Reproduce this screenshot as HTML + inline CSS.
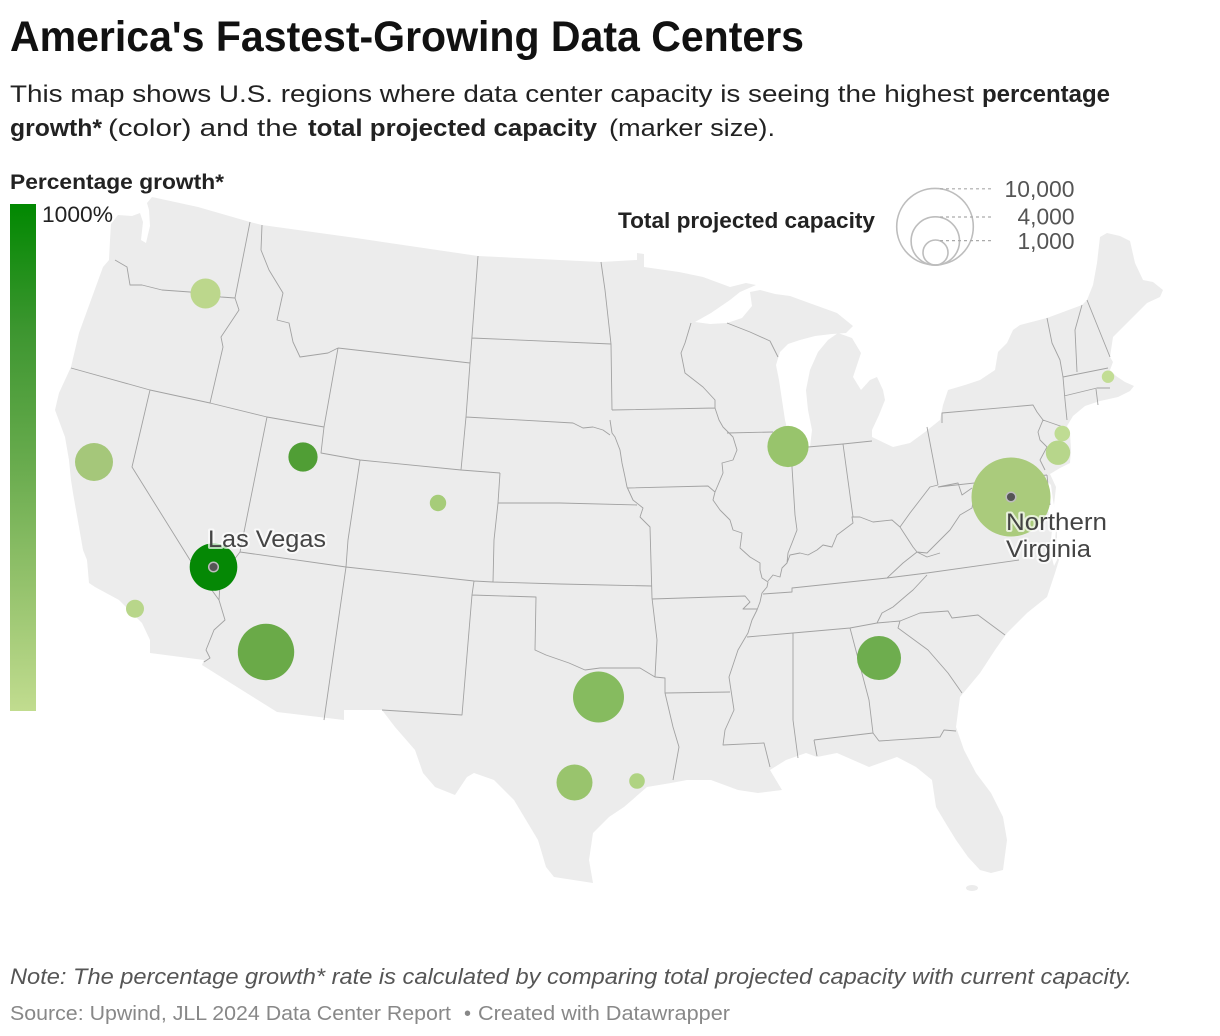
<!DOCTYPE html>
<html>
<head>
<meta charset="utf-8">
<style>
  html,body{margin:0;padding:0;background:#fff;}
  body{width:1220px;height:1036px;overflow:hidden;}
  svg{display:block;}
  text{font-family:"Liberation Sans",Arial,sans-serif;}
</style>
</head>
<body>
<svg width="1220" height="1036" viewBox="0 0 1220 1036" xmlns="http://www.w3.org/2000/svg">
  <defs>
    <linearGradient id="grad" x1="0" y1="0" x2="0" y2="1">
      <stop offset="0" stop-color="#018801"/>
      <stop offset="0.25" stop-color="#3d9630"/>
      <stop offset="0.5" stop-color="#66aa4c"/>
      <stop offset="0.75" stop-color="#94c26c"/>
      <stop offset="1" stop-color="#c1dc8f"/>
    </linearGradient>
  </defs>

  <!-- Title -->
  <text x="10" y="51" font-size="43" font-weight="bold" fill="#111" textLength="794" lengthAdjust="spacingAndGlyphs">America's Fastest-Growing Data Centers</text>

  <!-- Subtitle -->
  <text x="10" y="102" font-size="24" fill="#222" textLength="964" lengthAdjust="spacingAndGlyphs">This map shows U.S. regions where data center capacity is seeing the highest</text>
  <text x="982" y="102" font-size="24" font-weight="bold" fill="#222" textLength="128" lengthAdjust="spacingAndGlyphs">percentage</text>
  <text x="10" y="136" font-size="24" font-weight="bold" fill="#222" textLength="92" lengthAdjust="spacingAndGlyphs">growth*</text>
  <text x="108" y="136" font-size="24" fill="#222" textLength="190" lengthAdjust="spacingAndGlyphs">(color) and the</text>
  <text x="308" y="136" font-size="24" font-weight="bold" fill="#222" textLength="289" lengthAdjust="spacingAndGlyphs">total projected capacity</text>
  <text x="609" y="136" font-size="24" fill="#222" textLength="166" lengthAdjust="spacingAndGlyphs">(marker size).</text>

  <!-- Map -->
  <path fill="#ececec" stroke="none" d="
    M152,197 L198,207 L250,222 L262,225 L356,238 L478,256 L601,262 L637,260 L637,253 L644,254 L644,267
    L679,272 L703,277 L730,287 L746,283 L756,285
    L740,292 L730,300 L711,313 L695,322
    L710,324 L727,323 L742,318 L752,306 L750,292 L760,290 L775,294 L790,296 L812,304 L837,313 L853,326
    L846,333 L832,334 L815,336 L800,340 L788,344 L780,352
    L776,365 L779,380 L782,400 L785,420 L790,440 L800,447 L810,447
    L812,430 L808,410 L806,390 L810,370 L818,352 L828,340 L838,333
    L852,338 L861,353 L856,368 L853,377 L861,390 L870,380 L877,377 L883,390 L885,400 L879,415 L872,430
    L872,437 L893,447 L910,443 L925,432 L940,420
    L943,405 L948,390 L965,385 L980,380 L995,370 L998,352 L1007,343 L1013,330 L1020,325 L1047,318 L1082,305 L1087,300
    L1093,285 L1097,263 L1100,237 L1107,233 L1120,236 L1130,241 L1135,263 L1143,280 L1153,282 L1163,290 L1160,297
    L1147,303 L1137,313 L1123,327 L1113,337 L1110,357 L1113,362 L1110,370
    L1116,376 L1125,382 L1134,386 L1130,391 L1118,397 L1100,401
    L1085,406 L1073,416 L1067,426 L1070,433 L1071,450 L1070,463 L1060,468 L1050,474 L1056,487 L1054,505
    L1057,527 L1057,552 L1059,560 L1055,573 L1047,597 L1027,613 L1007,633 L995,650 L980,673 L960,697
    L956,727 L964,750 L976,773 L991,793 L1003,817 L1007,840 L1003,870 L991,873 L980,870 L968,857 L956,840
    L948,827 L936,807 L932,780 L916,767 L897,757 L869,767 L837,753 L817,757 L806,753 L786,760 L770,770
    L782,790 L758,793 L738,790 L711,780 L687,780 L671,783 L647,787 L624,807 L609,817 L593,833 L589,860 L593,883
    L554,877 L546,867 L538,840 L514,800 L494,780 L474,773 L467,777 L455,795 L435,787 L423,773 L415,750
    L395,727 L382,710 L344,710 L344,720 L277,712 L202,665 L204,660 L150,653
    L150,640 L142,623 L119,600 L95,587 L89,583 L87,560 L83,550 L79,527 L73,493 L71,480 L69,460 L65,437
    L55,410 L59,393 L71,367 L79,333 L91,300 L103,267 L109,260 L110,240 L111,224 L118,215 L132,216 L140,213
    L143,222 L141,240 L146,243 L150,226 L149,210 L147,203 Z"/>
  <ellipse cx="972" cy="888" rx="6" ry="3" fill="#ececec"/>
  <!-- Chesapeake inlet -->
  <path fill="#fff" d="M1046,480 L1050,492 L1048,510 L1052,530 L1050,550 L1054,566 L1057,560 L1055,540 L1057,520 L1053,500 L1051,485 Z"/>

  <!-- State borders -->
  <path fill="none" stroke="#a2a2a2" stroke-width="0.9" stroke-linejoin="round" d="
    M115,260 L127,267 L130,285 L142,285 L162,290 L190,292 L221,297 L235,298
    M250,222 L235,298
    M235,298 L239,310 L221,337 L223,347 L210,403
    M71,368 L150,390 L210,403 L267,417 L324,427
    M150,390 L132,467 L190,560 L219,600
    M219,600 L225,620 L214,630 L206,650 L210,658 L204,662
    M267,417 L240,552 L230,565 L220,585 L219,600
    M262,225 L261,250 L269,270 L283,293 L277,320 L289,323 L293,342 L300,357 L328,353 L338,348
    M338,348 L324,427
    M338,348 L470,363
    M478,256 L470,363 L466,417 L461,470
    M472,338 L611,344
    M601,262 L605,290 L611,344 L612,410
    M466,417 L573,423 L583,428 L593,427 L603,430 L610,435
    M610,420 L612,433 L615,437 L620,450 L622,463 L625,477 L627,487 L633,500 L643,508 L640,517 L650,527 L652,598 L657,640 L655,677
    M324,427 L321,453 L360,460 L461,470 L500,473
    M360,460 L348,540 L346,567 L324,720
    M240,552 L346,567 L474,581 L493,582 L560,584 L652,586
    M500,473 L498,503 L494,540 L493,582
    M498,503 L560,503 L637,505
    M474,581 L472,595 L462,715 L382,710
    M472,595 L536,597 L535,650 L546,655 L569,663 L585,670 L600,668 L640,668 L655,677 L665,678 L665,693 L673,727 L679,747 L673,780
    M665,693 L730,692
    M652,599 L745,596 L750,602 L743,609 L757,609
    M715,408 L719,420 L723,427 L733,437 L737,450 L733,460 L722,463 L723,473 L718,485 L715,492 L713,500 L720,510 L730,520 L733,530 L742,533 L740,548 L750,557 L760,563 L760,570 L762,578 L768,582 L767,587 L762,593 L760,602 L757,610 L752,620 L748,633 L738,650 L729,677 L734,710 L725,730 L723,745 L764,743 L770,767
    M627,488 L708,486 L715,492
    M612,410 L715,408
    M691,323 L685,343 L681,353 L685,373 L703,387 L715,400 L715,408
    M727,433 L773,432
    M727,323 L750,332 L770,341 L778,357
    M808,447 L843,444 L872,441
    M792,440 L792,467 L795,515 L797,530 L792,543 L788,553 L787,563
    M768,581 L773,575 L780,577 L782,568 L787,563 L790,555 L800,553 L808,555 L817,550 L823,545 L832,547 L837,535 L853,523 L852,517 L860,517 L873,522 L892,520 L900,527 L913,547 L917,552 L927,557 L940,553
    M843,444 L853,517
    M900,527 L910,513 L920,500 L930,487 L938,485
    M927,427 L938,485
    M917,552 L903,563 L887,578
    M763,594 L792,592 L792,588 L887,578 L927,573 L1019,560
    M927,575 L913,590 L907,595 L893,607 L882,613 L877,623
    M747,637 L793,633 L850,628 L877,623 L900,621
    M900,621 L920,613 L948,611 L952,618 L978,615 L1005,635
    M900,621 L898,628 L928,650 L948,673 L962,693
    M793,633 L793,720 L798,758
    M850,628 L869,700 L873,733 L879,741
    M814,740 L873,733 M814,740 L817,756
    M879,741 L940,737 L944,730 L956,731
    M942,423 L942,413 L1033,405 L1037,412 L1043,420
    M1043,420 L1038,432 L1040,440 L1047,447 L1040,460 L1045,470
    M938,487 L1047,475
    M1043,420 L1066,428
    M1047,318 L1052,343 L1060,360 L1063,377 L1065,400 L1067,420
    M1082,305 L1075,330 L1077,372
    M1087,300 L1110,357
    M1063,377 L1108,368
    M1064,396 L1097,388 L1110,388 M1096,389 L1098,405
    M917,552 L927,553 L940,540 L950,530 L960,515 L972,508 L975,490
    M938,487 L958,483 L962,495 L972,488
    M1047,475 L1050,505
  "/>

  <!-- Bubbles -->
  <circle cx="205.5" cy="293.5" r="15" fill="#bcd78c"/>
  <circle cx="94" cy="462" r="19" fill="#a5c77a"/>
  <circle cx="303" cy="457" r="14.6" fill="#509e35"/>
  <circle cx="438" cy="503" r="8.2" fill="#a6cc79"/>
  <circle cx="135" cy="608.7" r="9" fill="#b8d68a"/>
  <circle cx="266" cy="652" r="28.2" fill="#6aaa48"/>
  <circle cx="598.5" cy="697" r="25.5" fill="#86bb5f"/>
  <circle cx="574.5" cy="782.5" r="18" fill="#99c46d"/>
  <circle cx="637" cy="781" r="7.8" fill="#afd382"/>
  <circle cx="788" cy="446.5" r="20.6" fill="#98c46c"/>
  <circle cx="879" cy="658" r="22" fill="#6ead4e"/>
  <circle cx="1011" cy="497" r="39.5" fill="#aacb7c"/>
  <circle cx="1058" cy="452.7" r="12.2" fill="#b7d68b"/>
  <circle cx="1062.3" cy="433.5" r="7.8" fill="#bfdc93"/>
  <circle cx="1108" cy="376.7" r="6.2" fill="#c2dd94"/>
  <circle cx="213.5" cy="567" r="23.8" fill="#058805"/>

  <!-- Markers -->
  <circle cx="213.5" cy="567" r="4.8" fill="#555" stroke="#bdbdbd" stroke-width="1.5"/>
  <circle cx="1011" cy="497" r="4.8" fill="#555" stroke="#bdbdbd" stroke-width="1.5"/>

  <!-- Labels -->
  <g font-size="24" fill="#444" stroke="rgba(255,255,255,0.7)" stroke-width="4" stroke-linejoin="round" paint-order="stroke">
    <text x="208" y="547" textLength="118" lengthAdjust="spacingAndGlyphs">Las Vegas</text>
    <text x="1006" y="530" textLength="101" lengthAdjust="spacingAndGlyphs">Northern</text>
    <text x="1006" y="557" textLength="85" lengthAdjust="spacingAndGlyphs">Virginia</text>
  </g>

  <!-- Color legend -->
  <text x="10" y="189" font-size="21" font-weight="bold" fill="#222" textLength="214" lengthAdjust="spacingAndGlyphs">Percentage growth*</text>
  <rect x="10" y="204" width="26" height="507" fill="url(#grad)"/>
  <text x="42" y="222" font-size="22" fill="#222" textLength="71" lengthAdjust="spacingAndGlyphs">1000%</text>

  <!-- Size legend -->
  <text x="618" y="228" font-size="22" font-weight="bold" fill="#222" textLength="257" lengthAdjust="spacingAndGlyphs">Total projected capacity</text>
  <g fill="none" stroke="#bdbdbd" stroke-width="1.6">
    <circle cx="935" cy="226.7" r="38.3"/>
    <circle cx="935.3" cy="241" r="24.2"/>
    <circle cx="935.5" cy="252.5" r="12.5"/>
  </g>
  <g stroke="#aaa" stroke-width="1.2" stroke-dasharray="3,3">
    <line x1="940" y1="188.8" x2="993" y2="188.8"/>
    <line x1="940" y1="217" x2="993" y2="217"/>
    <line x1="940" y1="240.6" x2="993" y2="240.6"/>
  </g>
  <g font-size="23" fill="#555" text-anchor="end">
    <text x="1074.5" y="197" textLength="70" lengthAdjust="spacingAndGlyphs">10,000</text>
    <text x="1074.5" y="224.5" textLength="57" lengthAdjust="spacingAndGlyphs">4,000</text>
    <text x="1074.5" y="249" textLength="57" lengthAdjust="spacingAndGlyphs">1,000</text>
  </g>

  <!-- Footer -->
  <text x="10" y="984" font-size="22" font-style="italic" fill="#555" textLength="1122" lengthAdjust="spacingAndGlyphs">Note: The percentage growth* rate is calculated by comparing total projected capacity with current capacity.</text>
  <text x="10" y="1020" font-size="20" fill="#888" textLength="441" lengthAdjust="spacingAndGlyphs">Source: Upwind, JLL 2024 Data Center Report</text>
  <text x="464" y="1020" font-size="20" fill="#888">•</text>
  <text x="478" y="1020" font-size="20" fill="#888" textLength="252" lengthAdjust="spacingAndGlyphs">Created with Datawrapper</text>
</svg>
</body>
</html>
